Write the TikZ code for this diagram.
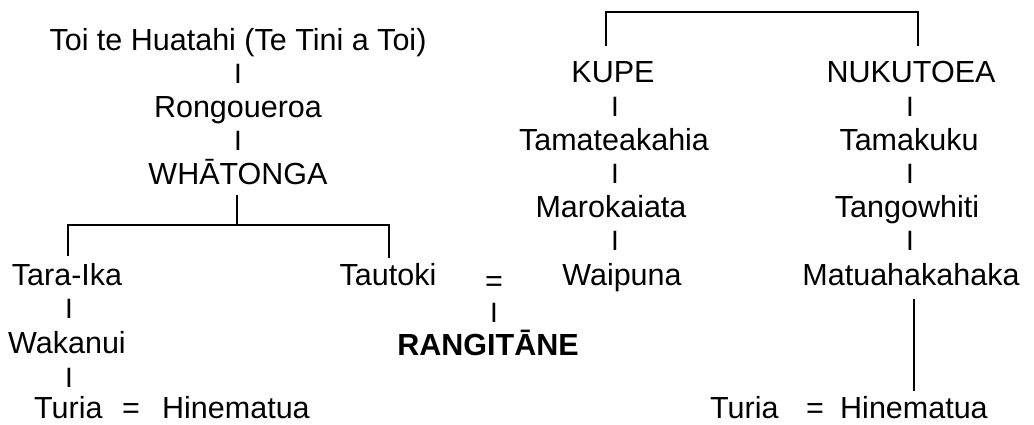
\documentclass[tikz,border=0pt]{standalone}
\usepackage{fontspec}
\setmainfont{Liberation Sans}
\begin{document}
\begin{tikzpicture}[x=1pt,y=-1pt,
  txt/.style={anchor=base,inner sep=0pt,font=\fontsize{30.5}{36}\selectfont},
  txtw/.style={txt,anchor=base west},
  bar/.style={anchor=base,inner sep=0pt,font=\fontsize{28}{32}\selectfont},
  ln/.style={line width=2.4pt,line cap=rect}]
\useasboundingbox[fill=white] (0,0) rectangle (1034,424);
% left line
\node[txt] (toi) at (238,50) {Toi te Huatahi (Te Tini a Toi)};
\node[bar] (i1) at (238,83) {I};
\node[txt] (rong) at (238,117) {Rongoueroa};
\node[bar] (i2) at (238,150) {I};
\node[txt] (wha) at (238,184) {WHĀTONGA};
\node[txt] (tara) at (67,285) {Tara-Ika};
\node[txt] (taut) at (388,285) {Tautoki};
\node[txt] (eq1) at (494,291) {=};
\node[bar] (i3) at (494,322) {I};
\node[txt,font=\fontsize{30.5}{36}\selectfont\bfseries] (rang) at (488,355) {RANGITĀNE};
\node[bar] (i4) at (69,318) {I};
\node[txt] (waka) at (67,353) {Wakanui};
\node[bar] (i5) at (69,387) {I};
\node[txtw] (turL) at (34,418) {Turia};
\node[txt] (eqL) at (131,418) {=};
\node[txtw] (hinL) at (162,418) {Hinematua};
% right lines
\node[txt] (kupe) at (613,82) {KUPE};
\node[bar] (i6) at (615,116) {I};
\node[txt] (tama) at (614,150) {Tamateakahia};
\node[bar] (i7) at (615,183) {I};
\node[txt] (maro) at (611,217) {Marokaiata};
\node[bar] (i8) at (615,250) {I};
\node[txt] (waip) at (622,285) {Waipuna};
\node[txt] (nuku) at (911,82) {NUKUTOEA};
\node[bar] (i9) at (910,116) {I};
\node[txt] (tamk) at (909,150) {Tamakuku};
\node[bar] (i10) at (910,183) {I};
\node[txt] (tang) at (907,217) {Tangowhiti};
\node[bar] (i11) at (910,250) {I};
\node[txt] (matu) at (911,285) {Matuahakahaka};
\node[txtw] (turR) at (710,418) {Turia};
\node[txt] (eqR) at (815,418) {=};
\node[txtw] (hinR) at (840,418) {Hinematua};
% connectors
\coordinate (whb) at (237,196);
\coordinate (fork) at (237,225);
\coordinate (taratop) at (68,255);
\coordinate (tauttop) at (389,257);
\draw[ln] (whb) -- (fork);
\draw[ln] (taratop) -- (taratop |- fork) -- (tauttop |- fork) -- (tauttop);
\coordinate (kupetop) at (606,45);
\coordinate (nukutop) at (918,45);
\coordinate (bracket) at (606,12);
\draw[ln] (kupetop) -- (bracket) -- (bracket -| nukutop) -- (nukutop);
\coordinate (matub) at (914,300);
\coordinate (turRt) at (914,390);
\draw[ln] (matub) -- (turRt);
\end{tikzpicture}
\end{document}
